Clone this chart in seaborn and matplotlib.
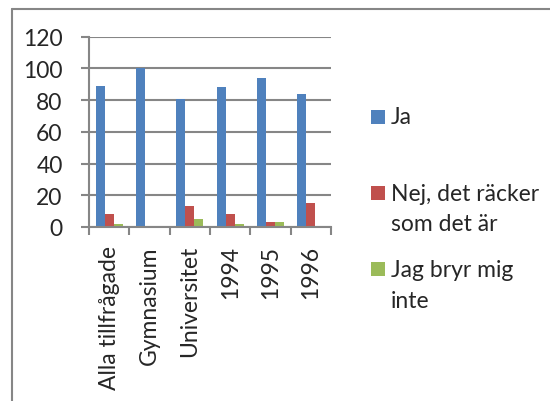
import matplotlib
matplotlib.use("Agg")
import matplotlib.pyplot as plt
from matplotlib.lines import Line2D
from matplotlib.patches import Rectangle
import seaborn as sns
import pandas as pd
import numpy as np

categories = ["Alla tillfrågade", "Gymnasium", "Universitet", "1994", "1995", "1996"]
series_names = ["Ja", "Nej, det räcker\nsom det är", "Jag bryr mig\ninte"]
ja = [89, 100, 81, 88, 94, 84]
nej = [8, 0, 13, 8, 3, 15]
bryr = [2, 0, 5, 2, 3, 0]
y_ticks = [0, 20, 40, 60, 80, 100, 120]
colors = ["#4F81BD", "#C0504D", "#9BBB59"]

rows = []
for name, vals in zip(series_names, [ja, nej, bryr]):
    for c, v in zip(categories, vals):
        rows.append({"cat": c, "serie": name, "val": v})
df = pd.DataFrame(rows)

sns.set_style("white")
plt.rcParams["font.family"] = ["Lato", "DejaVu Sans"]
gray = "#868686"
FS = 16.5

fig = plt.figure(figsize=(5.5, 4.02), dpi=100)
W, H = 550, 402
ax = fig.add_axes([89 / W, 1 - 228 / H, (331 - 89) / W, (228 - 37.7) / H])

sns.barplot(data=df, x="cat", y="val", hue="serie", order=categories,
            hue_order=series_names, palette=colors, width=0.67,
            saturation=1, ax=ax, legend=False, edgecolor="none")

ax.set_ylim(0, 120)
ax.set_xlim(-0.5, len(categories) - 0.5)
ax.set_yticks(y_ticks)
ax.set_yticklabels([str(t) for t in y_ticks])
ax.yaxis.grid(True, color=gray, linewidth=1.5)
ax.set_axisbelow(True)
ax.set_xlabel("")
ax.set_ylabel("")
for s in ["top", "right"]:
    ax.spines[s].set_visible(False)
for s in ["left", "bottom"]:
    ax.spines[s].set_color(gray)
    ax.spines[s].set_linewidth(1.5)
ax.set_xticks(np.arange(len(categories)))
ax.set_xticklabels(categories, rotation=90)
ax.set_xticks(np.arange(len(categories) + 1) - 0.5, minor=True)
ax.tick_params(axis="x", which="major", length=0, pad=13, labelsize=FS)
ax.tick_params(axis="x", which="minor", length=6, width=1.5, color=gray, direction="out")
ax.tick_params(axis="y", length=6, width=1.5, color=gray, direction="out", pad=13, labelsize=FS)
ax.tick_params(bottom=True, left=True, which="both")

# outer frame
fig.add_artist(Line2D([12 / W, 12 / W], [0, 1 - 10 / H], transform=fig.transFigure, color=gray, linewidth=1.5))
fig.add_artist(Line2D([12 / W, 1], [1 - 10 / H, 1 - 10 / H], transform=fig.transFigure, color=gray, linewidth=1.5))

# legend (manual, Excel style): marker centre and baselines of each text line
marker_y = [118, 194, 270]
baselines = [[124], [201, 231], [277, 308]]
for name, col, yc, bls in zip(series_names, colors, marker_y, baselines):
    fig.add_artist(Rectangle((371 / W, 1 - (yc + 7) / H), 14 / W, 14 / H,
                             transform=fig.transFigure, facecolor=col, edgecolor="none"))
    for line, bl in zip(name.split("\n"), bls):
        fig.text(391 / W, 1 - bl / H, line, ha="left", va="baseline", fontsize=FS)

fig.savefig("out.png", dpi=100)
